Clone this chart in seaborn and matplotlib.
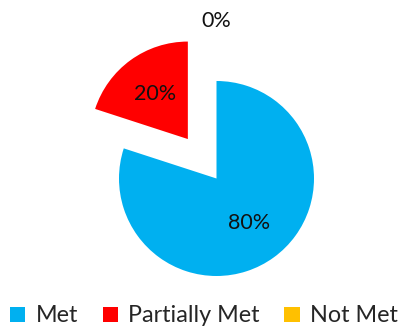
import matplotlib
matplotlib.use("Agg")
import matplotlib.pyplot as plt
from matplotlib.patches import Patch
import seaborn as sns

categories = ["Met", "Partially Met", "Not Met"]
values = [80, 20, 0]
colors = ["#00B0F0", "#FF0000", "#FFC000"]

sns.set_theme(style="white")
plt.rcParams["font.family"] = ["Lato", "DejaVu Sans"]

W, H = 404, 326
R = 97.5            # pie radius in pixels
cx, cy = 216.5, 178.5  # pie centre in pixels (from top-left)

fig = plt.figure(figsize=(W / 100, H / 100), dpi=100)
ax = fig.add_axes([0, 0, 1, 1])

wedges, texts, autotexts = ax.pie(
    values,
    colors=sns.color_palette(colors),
    startangle=90,
    counterclock=False,
    explode=[0, 0.5, 1.05],
    autopct="%1.0f%%",
    pctdistance=0.57,
    wedgeprops=dict(linewidth=0),
    textprops=dict(fontsize=15.5, color="#111111"),
)
ax.set_aspect("equal")
ax.set_xlim(-cx / R, (W - cx) / R)
ax.set_ylim(-(H - cy) / R, cy / R)
ax.axis("off")

handles = [Patch(facecolor=c, edgecolor="none", label=l) for c, l in zip(colors, categories)]
fig.legend(
    handles=handles,
    loc="center",
    bbox_to_anchor=(204 / W, 10 / H),
    ncol=3,
    frameon=False,
    fontsize=16.8,
    handlelength=0.65,
    handleheight=0.65,
    handletextpad=0.45,
    columnspacing=1.05,
    borderpad=0,
)

fig.savefig("out.png", dpi=100)
